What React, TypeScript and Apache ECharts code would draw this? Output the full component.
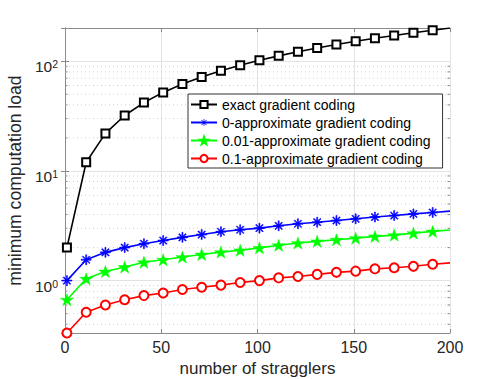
import React, { useEffect, useRef } from "react";
import * as echarts from "echarts";

// ---------- data ----------
const stragglers = [1, 11, 21, 31, 41, 51, 61, 71, 81, 91, 101, 111, 121, 131, 141, 151, 161, 171, 181, 191, 200];
const exactLoad = [2, 12, 22, 32, 42, 52, 62, 72, 82, 92, 102, 112, 122, 132, 142, 152, 162, 172, 182, 192, 201];
const zeroApprox = [1.0, 1.55, 1.81, 2.0, 2.17, 2.32, 2.48, 2.63, 2.79, 2.91, 3.01, 3.16, 3.3, 3.41, 3.53, 3.66, 3.8, 3.92, 4.06, 4.18, 4.3];
const approx001 = [0.67, 1.04, 1.21, 1.33, 1.47, 1.55, 1.64, 1.73, 1.82, 1.89, 1.99, 2.1, 2.2, 2.28, 2.36, 2.44, 2.53, 2.6, 2.71, 2.81, 2.89];
const approx01 = [0.333, 0.515, 0.6, 0.67, 0.73, 0.77, 0.83, 0.87, 0.91, 0.96, 1.0, 1.06, 1.09, 1.14, 1.19, 1.22, 1.28, 1.31, 1.35, 1.41, 1.45];
const seriesNames = [
  "exact gradient coding",
  "0-approximate gradient coding",
  "0.01-approximate gradient coding",
  "0.1-approximate gradient coding",
];
const xTicks = [0, 50, 100, 150, 200];
const minorYValues = [0.4, 0.5, 0.6, 0.7, 0.8, 0.9, 2, 3, 4, 5, 6, 7, 8, 9, 20, 30, 40, 50, 60, 70, 80, 90];
const X_MIN = 0;
const X_MAX = 200;
const Y_MIN = 0.333;
const Y_MAX = 201;

const FONT = "Liberation Sans, Arial, Helvetica, sans-serif";
const TXT = "#262626";
const AXIS = "#8a8a8a";

const ASTERISK =
  "path://M0 9 H20 V11 H0 Z M9 0 H11 V20 H9 Z M2.3 3.7 L3.7 2.3 L17.7 16.3 L16.3 17.7 Z M16.3 2.3 L17.7 3.7 L3.7 17.7 L2.3 16.3 Z";
const STAR =
  "path://M10 0 L12.25 6.91 L19.51 6.91 L13.63 11.18 L15.88 18.09 L10 13.82 L4.12 18.09 L6.37 11.18 L0.49 6.91 L7.75 6.91 Z";

function makeData(ys: number[]) {
  return stragglers.map((x, i) =>
    i === stragglers.length - 1 ? { value: [x, ys[i]], symbol: "none" } : { value: [x, ys[i]] }
  );
}

export default function App() {
  const ref = useRef<HTMLDivElement>(null);
  useEffect(() => {
    if (!ref.current) return;
    const chart = echarts.init(ref.current, undefined, { renderer: "svg" });
    const yLabelFormatter = (val: number) => {
      const l = Math.log10(val);
      const e = Math.round(l);
      if (Math.abs(l - e) > 1e-6) return "";
      return `{b|10}{s|${e}}`;
    };
    const lineSeries = (name: string, ys: number[], color: string, symbol: string, size: any, extra: any = {}) => ({
      name,
      type: "line",
      data: makeData(ys),
      symbol,
      symbolSize: size,
      showAllSymbol: true,
      lineStyle: { color, width: 1.6 },
      itemStyle: { color, borderColor: color, borderWidth: 1.5 },
      z: 3,
      ...extra,
    });
    chart.setOption({
      animation: false,
      backgroundColor: "#fff",
      textStyle: { fontFamily: FONT },
      grid: { left: 65, right: 48, top: 28, bottom: 46, outerBoundsMode: "none", containLabel: false },
      legend: {
        data: [
          seriesNames[0],
          { name: seriesNames[1], itemStyle: { borderWidth: 0 } },
          seriesNames[2],
          seriesNames[3],
        ],
        orient: "vertical",
        left: 188,
        top: 94,
        padding: [3, 12, 2, 2],
        itemGap: 3,
        itemWidth: 26,
        itemHeight: 9,
        backgroundColor: "#fff",
        borderColor: "#333",
        borderWidth: 1,
        textStyle: { fontSize: 14, color: "#000", fontFamily: FONT, lineHeight: 15 },
      },
      xAxis: [
        {
          type: "value",
          min: X_MIN,
          max: X_MAX,
          interval: 50,
          position: "bottom",
          name: "number of stragglers",
          nameLocation: "middle",
          nameGap: 26,
          nameTextStyle: { fontSize: 17, color: TXT, fontFamily: FONT, lineHeight: 16 },
          axisLine: { lineStyle: { color: AXIS, width: 1 } },
          axisTick: { inside: true, length: 4, lineStyle: { color: AXIS } },
          axisLabel: { fontSize: 16, color: TXT, margin: 6, fontFamily: FONT, formatter: (v: number) => (xTicks.includes(v) ? String(v) : "") },
          splitLine: { show: true, lineStyle: { color: "#e3e3e3", width: 1 } },
        },
        {
          type: "value",
          min: X_MIN,
          max: X_MAX,
          interval: 50,
          position: "top",
          axisLine: { lineStyle: { color: AXIS, width: 1 } },
          axisTick: { inside: true, length: 4, lineStyle: { color: AXIS } },
          axisLabel: { show: false },
          splitLine: { show: false },
        },
      ],
      yAxis: [
        {
          type: "log",
          logBase: 10,
          min: Y_MIN,
          max: Y_MAX,
          position: "left",
          name: "minimum computation load",
          nameLocation: "middle",
          nameGap: 31,
          nameTextStyle: { fontSize: 17.6, color: TXT, fontFamily: FONT },
          axisLine: { show: true, lineStyle: { color: AXIS, width: 1 } },
          axisTick: { inside: true, length: 4, lineStyle: { color: AXIS } },
          axisLabel: {
            margin: 7,
            padding: [11, 0, 0, 0],
            formatter: yLabelFormatter,
            showMinLabel: false,
            showMaxLabel: false,
            rich: {
              b: { fontSize: 15.5, color: TXT, fontFamily: FONT, lineHeight: 16, verticalAlign: "bottom" },
              s: { fontSize: 10.5, color: TXT, fontFamily: FONT, lineHeight: 11, verticalAlign: "top", padding: [0, 0, 8, 0] },
            },
          },
          splitLine: { show: true, lineStyle: { color: "#e3e3e3", width: 1 } },
        },
        {
          type: "log",
          logBase: 10,
          min: Y_MIN,
          max: Y_MAX,
          position: "right",
          axisLine: { show: true, lineStyle: { color: AXIS, width: 1 } },
          axisTick: { inside: true, length: 4, lineStyle: { color: AXIS } },
          axisLabel: { show: false },
          splitLine: { show: false },
        },
      ],
      series: [
        {
          type: "custom",
          name: "minor",
          silent: true,
          z: 1,
          xAxisIndex: 0,
          yAxisIndex: 0,
          encode: { x: 0, y: 1 },
          data: minorYValues.map((v) => [X_MIN, v]),
          renderItem: (params: any, api: any) => {
            const v = api.value(1);
            const a = api.coord([X_MIN, v]);
            const b = api.coord([X_MAX, v]);
            return {
              type: "group",
              children: [
                {
                  type: "line",
                  shape: { x1: a[0], y1: a[1], x2: b[0], y2: b[1] },
                  style: { stroke: "#c4c4c4", lineWidth: 0.8, lineDash: [1, 3] },
                },
                {
                  type: "line",
                  shape: { x1: a[0], y1: a[1], x2: a[0] + 2.5, y2: a[1] },
                  style: { stroke: AXIS, lineWidth: 1 },
                },
                {
                  type: "line",
                  shape: { x1: b[0], y1: b[1], x2: b[0] - 2.5, y2: b[1] },
                  style: { stroke: AXIS, lineWidth: 1 },
                },
              ],
            };
          },
        },
        lineSeries(seriesNames[0], exactLoad, "#000000", "emptyRect", 8),
        lineSeries(seriesNames[1], zeroApprox, "#0000ff", ASTERISK, 10, { itemStyle: { color: "#0000ff", borderColor: "#0000ff", borderWidth: 0.6 } }),
        lineSeries(seriesNames[2], approx001, "#00ff00", STAR, [13, 12], { itemStyle: { color: "#00ff00", borderColor: "#00ff00", borderWidth: 0.5 } }),
        lineSeries(seriesNames[3], approx01, "#ff0000", "emptyCircle", 9),
      ],
    });
    return () => chart.dispose();
  }, []);
  return <div ref={ref} style={{ position: "absolute", left: 0, top: 0, width: 498, height: 379 }} />;
}
